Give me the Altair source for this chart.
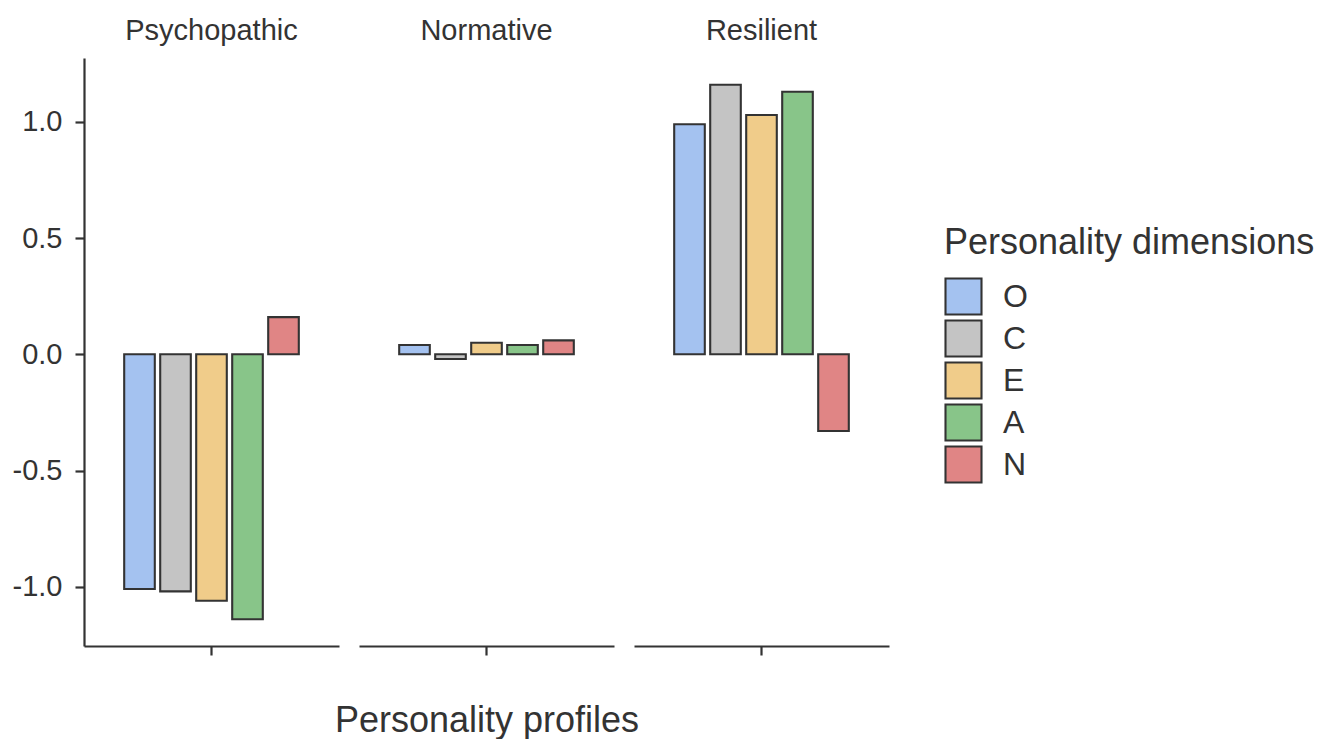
import altair as alt
import pandas as pd

profiles = ["Psychopathic", "Normative", "Resilient"]
dims = ["O", "C", "E", "A", "N"]
colors = ["#A4C2F0", "#C4C4C4", "#F0CC8A", "#88C589", "#E08585"]

psychopathic = [-1.01, -1.02, -1.06, -1.14, 0.16]
normative = [0.04, -0.02, 0.05, 0.04, 0.06]
resilient = [0.99, 1.16, 1.03, 1.13, -0.33]

rows = []
for prof, vals in zip(profiles, [psychopathic, normative, resilient]):
    for d, v in zip(dims, vals):
        rows.append({"profile": prof, "dim": d, "value": v})
df = pd.DataFrame(rows)

FONT = "Liberation Sans"
TXT = "#333333"

base = alt.Chart(df).mark_bar(stroke="#333333", strokeWidth=2.1).encode(
    x=alt.X("profile:N", title=None,
            axis=alt.Axis(labels=False, ticks=True, tickSize=9, title=None),
            scale=alt.Scale(paddingInner=0, paddingOuter=0.2083)),
    xOffset=alt.XOffset("dim:N", sort=dims,
                        scale=alt.Scale(paddingInner=0.15, paddingOuter=0.075)),
    y=alt.Y("value:Q", stack=None,
            scale=alt.Scale(domain=[-1.255, 1.275], nice=False, zero=True),
            axis=alt.Axis(values=[-1, -0.5, 0, 0.5, 1], format=".1f", title=None,
                          labelExpr="replace(datum.label, '\u2212', '-')",
                          grid=False, tickSize=9, labelPadding=13)),
    color=alt.Color("dim:N", sort=dims,
                    scale=alt.Scale(domain=dims, range=colors),
                    legend=alt.Legend(
                        title="Personality dimensions", orient="none",
                        legendX=860, legendY=168,
                        titleFont=FONT, titleFontSize=36, titleFontWeight="normal",
                        titleColor=TXT, titlePadding=15, titleLimit=600,
                        labelFont=FONT, labelFontSize=32, labelColor=TXT,
                        labelOffset=20,
                        symbolType="square", symbolSize=1296,
                        symbolStrokeColor="#333333", symbolStrokeWidth=2.1,
                        symbolOpacity=1, rowPadding=-3)),
).properties(width=255, height=588)

chart = base.facet(
    column=alt.Column("profile:N", sort=profiles, title="Personality profiles",
                      header=alt.Header(labelOrient="top", titleOrient="bottom",
                                        labelFont=FONT, labelFontSize=29, labelColor=TXT,
                                        labelPadding=12,
                                        titleFont=FONT, titleFontSize=36,
                                        titleFontWeight="normal", titleColor=TXT,
                                        titlePadding=37)),
    spacing=20,
).resolve_scale(x="independent", xOffset="independent").properties(
    padding={"left": 4, "top": 9, "right": 0, "bottom": 0}
).configure_axis(
    domainColor="#333333", domainWidth=2.2, tickColor="#333333", tickWidth=2.2,
    labelColor=TXT, labelFont=FONT, labelFontSize=29,
).configure_view(stroke=None)

chart.save("out.html", embed_options={"renderer": "svg", "actions": False})
